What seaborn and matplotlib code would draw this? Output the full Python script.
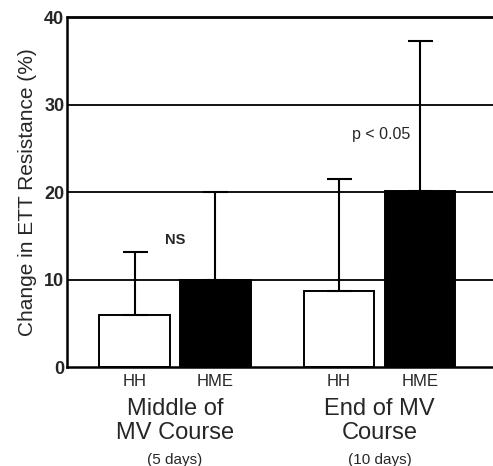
import matplotlib
matplotlib.use("Agg")
import matplotlib.pyplot as plt
import matplotlib.transforms as mtransforms
import seaborn as sns
import pandas as pd

# --- data ---
groups = ["Middle of\nMV Course", "End of MV\nCourse"]
group_notes = ["(5 days)", "(10 days)"]
devices = ["HH", "HME"]
mean_mid = [6.0, 10.0]
sd_mid = [7.2, 10.0]
mean_end = [8.7, 20.1]
sd_end = [12.8, 17.2]
notes = ["NS", "p < 0.05"]

df = pd.DataFrame({
    "group": [groups[0]] * 2 + [groups[1]] * 2,
    "device": devices * 2,
    "mean": mean_mid + mean_end,
})

sns.set_style("white")
plt.rcParams["font.family"] = ["Liberation Sans", "DejaVu Sans"]

fig = plt.figure(figsize=(4.93, 4.66), dpi=100)
ax = fig.add_axes([0.136, 0.2124, 0.864, 0.7511])

for y in [10, 20, 30]:
    ax.axhline(y, color="black", lw=1.3, zorder=0)

sns.barplot(data=df, x="group", y="mean", hue="device", order=groups, hue_order=devices,
            palette={"HH": "white", "HME": "black"}, edgecolor="black", linewidth=1.4,
            width=0.79, gap=0.125, errorbar=None, legend=False, ax=ax, zorder=2)

# one-sided (upper) error bars from bar tops
# seaborn draws patches hue-by-hue: HH (mid, end), HME (mid, end)
centers = [p.get_x() + p.get_width() / 2 for p in ax.patches]
tops = [p.get_height() for p in ax.patches]
sds = [sd_mid[0], sd_end[0], sd_mid[1], sd_end[1]]
ax.errorbar(centers, tops, yerr=[[0] * 4, sds], fmt="none", ecolor="black",
            elinewidth=1.5, capsize=9, capthick=1.5, zorder=3)

ax.set_ylim(0, 40)
ax.set_xlim(-0.528, 1.555)
ax.set_yticks([0, 10, 20, 30, 40])
ax.set_yticklabels(["0", "10", "20", "30", "40"], fontsize=13, fontweight="bold")
ax.tick_params(axis="y", length=0, pad=2)
ax.set_xticks(centers)
ax.set_xticklabels(["HH", "HH", "HME", "HME"], fontsize=12)
ax.tick_params(axis="x", length=0, pad=5)
ax.set_xlabel("")
ax.set_ylabel("Change in ETT Resistance (%)", fontsize=15, labelpad=5)

for s in ["top", "right"]:
    ax.spines[s].set_visible(False)
ax.axhline(40, color="black", lw=2, clip_on=False, zorder=1)
for s in ["left", "bottom"]:
    ax.spines[s].set_linewidth(1.8)
    ax.spines[s].set_color("black")

trans = mtransforms.blended_transform_factory(ax.transData, ax.transAxes)
for i, (g, n) in enumerate(zip(groups, group_notes)):
    ax.text(i, -0.088, g, transform=trans, ha="center", va="top", fontsize=17,
            linespacing=1.12)
    ax.text(i, -0.265, n, transform=trans, ha="center", va="center", fontsize=11)

ax.text(0.0, 14.5, notes[0], ha="center", va="center", fontsize=10.5, fontweight="bold")
ax.text(centers[3] - 0.045, 26.6, notes[1], ha="right", va="center", fontsize=11.5)

fig.savefig("out.png", dpi=100)
